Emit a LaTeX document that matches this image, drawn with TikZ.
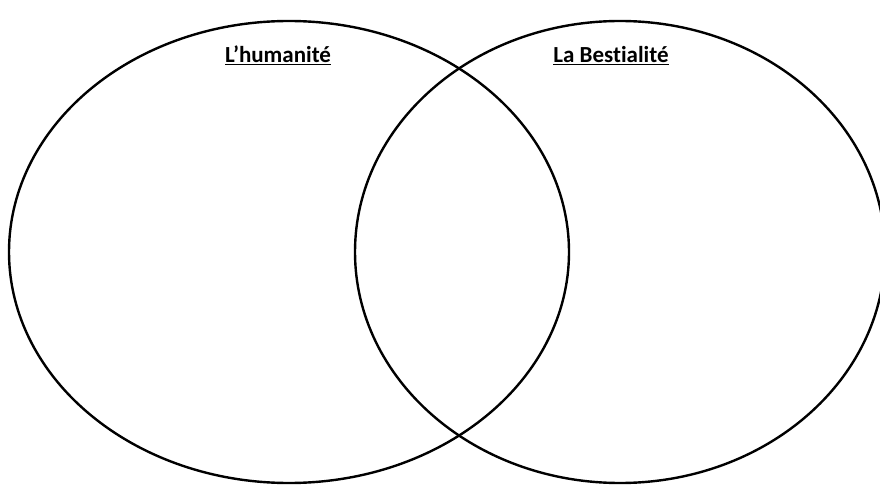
\documentclass[tikz,border=0pt]{standalone}
\usepackage{fontspec}
\setmainfont{Carlito}[Ligatures={NoCommon,NoRare}]
\begin{document}
\begin{tikzpicture}[x=1pt,y=-1pt,
  venn/.style={draw=black,line width=2.4pt},
  title/.style={font=\fontsize{23}{26}\selectfont\bfseries,text=black,inner sep=0pt,anchor=base}]
\useasboundingbox (0,0) rectangle (880,486);
\clip (0,0) rectangle (880,486);
\fill[white] (0,0) rectangle (880,486);
\draw[venn] (289,252) ellipse [x radius=280pt, y radius=231pt];
\draw[venn] (620,252) ellipse [x radius=265pt, y radius=231pt];
\node[title] (human) at (278,63) {\underline{L’humanité}};
\node[title] (beast) at (611,63) {\underline{La Bestialité}};
\end{tikzpicture}
\end{document}
